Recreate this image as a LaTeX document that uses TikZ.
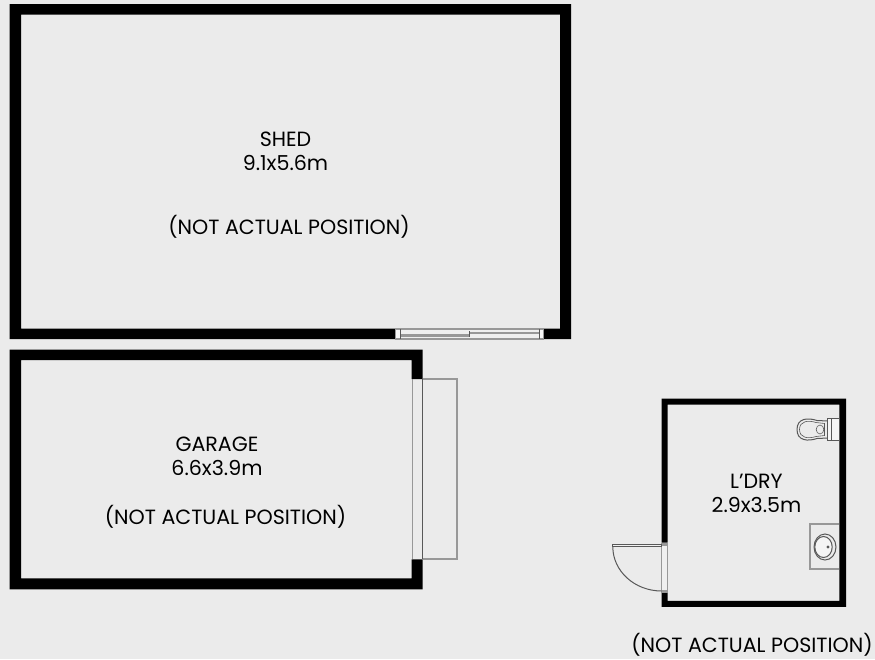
\documentclass[tikz,border=0pt]{standalone}
\usepackage{fontspec}
\setmainfont{Poppins}
\definecolor{bg}{HTML}{EBEBEB}
\definecolor{ln}{HTML}{989898}
\definecolor{dk}{HTML}{585858}
\tikzset{
  wall/.style={fill=black,draw=none,even odd rule},
  lab/.style={font=\fontsize{20.6}{24}\selectfont,text=black,inner sep=0pt,anchor=center},
  thin line/.style={draw=dk,line width=1pt},
  grey line/.style={draw=ln,line width=1.8pt},
  jamb/.style={fill=white!60!bg,draw=ln,line width=0.7pt}
}
\begin{document}
\begin{tikzpicture}[x=1pt,y=-1pt]
\useasboundingbox (0,0) rectangle (875,659);
\fill[bg] (0,0) rectangle (875,659);
% Shed
\fill[wall] (9.7,4) -- (571,4) -- (571,339) -- (543.5,339) -- (543.5,328.5) -- (560,328.5) -- (560,14.5) -- (21,14.5) -- (21,328.5) -- (395,328.5) -- (395,339) -- (9.7,339) -- cycle;
\fill[white!20!bg] (395,329) rectangle (543.5,339);
\draw[jamb] (395.3,329) rectangle (400,339);
\draw[jamb] (539,329) rectangle (543.3,339);
\draw[grey line] (395,329.2) -- (543.5,329.2);
\draw[grey line] (395,338.6) -- (543.5,338.6);
\draw[grey line,line width=2.4pt] (400,335.3) -- (469,335.3);
\draw[grey line,line width=2.4pt] (469,333) -- (539,333);
\draw[thin line] (400,329) -- (400,339);
\draw[thin line] (469,331) -- (469,337);
\draw[thin line] (539,329) -- (539,339);
% Garage
\fill[wall] (9.7,349.5) -- (422.7,349.5) -- (422.7,379) -- (411.7,379) -- (411.7,360) -- (21,360) -- (21,578.3) -- (411.7,578.3) -- (411.7,559.3) -- (422.7,559.3) -- (422.7,589.3) -- (9.7,589.3) -- cycle;
\draw[grey line] (412.5,379) -- (412.5,559.3);
\draw[grey line] (422.7,379) -- (456.7,379) -- (456.7,559.3) -- (422.7,559.3);
\draw[thin line] (422.5,379) -- (422.5,559.3);
% Laundry
\fill[wall] (661.7,398.5) -- (846,398.5) -- (846,606.8) -- (661.7,606.8) -- (661.7,592.7) -- (667.7,592.7) -- (667.7,600.8) -- (839.3,600.8) -- (839.3,404.5) -- (667.7,404.5) -- (667.7,542.7) -- (661.7,542.7) -- cycle;
% door
\fill[white!20!bg] (661.7,542.7) rectangle (667.7,592.7);
\draw[grey line,line width=1pt] (661.9,542.7) -- (661.9,592.7);
\draw[grey line,line width=1pt] (667.5,542.7) -- (667.5,592.7);
\draw[grey line,line width=0.8pt,fill=ln] (661.7,542.9) rectangle (667.7,545);
\draw[grey line,line width=0.8pt,fill=ln] (661.7,590.5) rectangle (667.7,592.7);
\draw[thin line,fill=white!30!bg] (612.8,544.3) rectangle (661.7,546.7);
\draw[thin line] (612.8,546.7) .. controls (612.8,571.2) and (634.7,591) .. (661.7,591);
% toilet
\draw[thin line,fill=white!50!bg] (827.8,418) rectangle (839,440.7);
\draw[thin line] (831,418) -- (831,440.7);
\draw[thin line] (827.8,421) -- (817,420.5) .. controls (808,417.5) and (797,418) .. (797,429.5) .. controls (797,441) and (808,441.5) .. (817,438.5) -- (827.8,438);
\draw[thin line,line width=0.6pt] (824.5,423.5) -- (816,422.5) .. controls (808,420) and (799.5,421) .. (799.5,429.5) .. controls (799.5,438) and (808,439) .. (816,436.5) -- (824.5,435.5) -- cycle;
\draw[thin line,line width=0.6pt,fill=bg] (820,429.5) ellipse[x radius=3.8,y radius=4.5];
% sink
\draw[grey line,line width=1.2pt] (839.3,524) -- (810,524) -- (810,569) -- (839.3,569);
\draw[thin line] (825,547) ellipse[x radius=11,y radius=13];
\draw[thin line,fill=white!50!bg] (823.5,547) ellipse[x radius=8.7,y radius=10.5];
\fill[dk] (828,547) circle (1.6);
% Labels
\node[lab] (shedname) at (285.5,139) {SHED};
\node[lab] (shedsize) at (285.5,163) {9.1x5.6m};
\node[lab] (shednote) at (289,227) {(NOT ACTUAL POSITION)};
\node[lab] (garname) at (217,444) {GARAGE};
\node[lab] (garsize) at (217,468) {6.6x3.9m};
\node[lab] (garnote) at (225.5,517) {(NOT ACTUAL POSITION)};
\node[lab] (ldryname) at (756.5,481) {L’DRY};
\node[lab] (ldrysize) at (756.5,505) {2.9x3.5m};
\node[lab] (ldrynote) at (752,645) {(NOT ACTUAL POSITION)};
\end{tikzpicture}
\end{document}
